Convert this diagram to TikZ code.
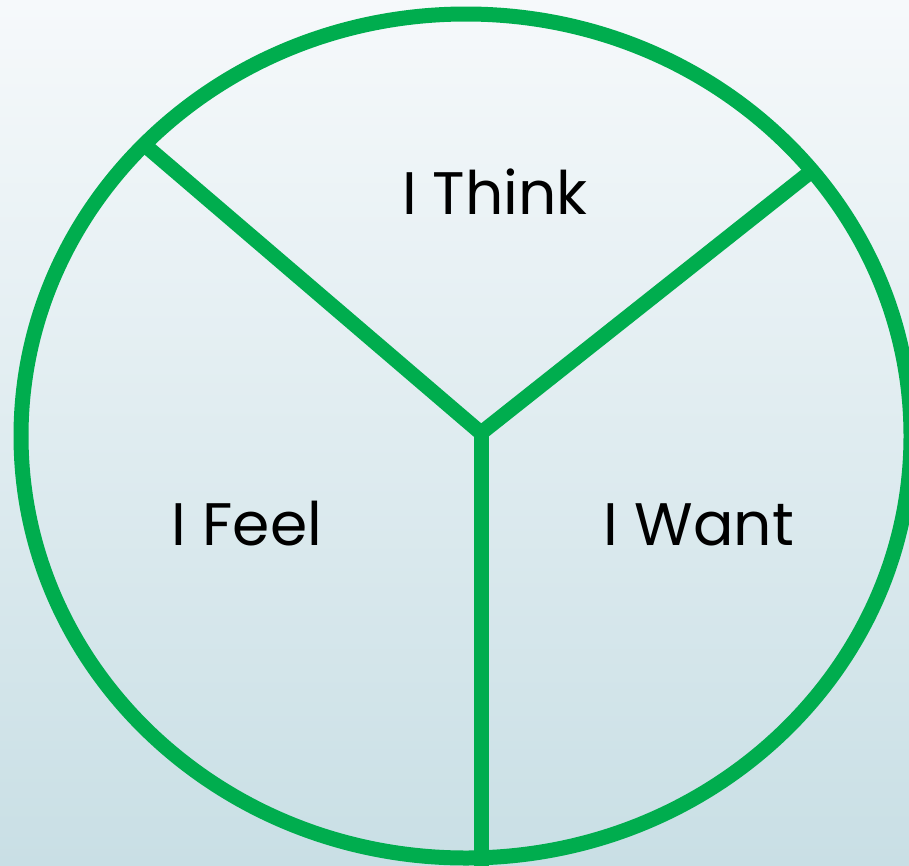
\documentclass[tikz,border=0pt]{standalone}
\usepackage{fontspec}
\setmainfont{Poppins}
\definecolor{ringgreen}{RGB}{0,173,78}
\definecolor{bgtop}{RGB}{246,249,251}
\definecolor{bgbot}{RGB}{201,223,229}
\tikzset{
  ring/.style={draw=ringgreen, line width=15pt},
  spoke/.style={draw=ringgreen, line width=15pt},
  label/.style={anchor=base, font=\fontsize{60}{60}\selectfont, text=black, inner sep=0pt}
}
\begin{document}
\begin{tikzpicture}[x=1pt,y=-1pt]
  \shade[top color=bgtop, bottom color=bgbot] (0,0) rectangle (909,865);
  \useasboundingbox (0,0) rectangle (909,865);
  \coordinate (hub) at (481,433);
  \coordinate (ul) at (147,147);
  \coordinate (ur) at (813,170);
  \coordinate (bt) at (481,870);
  \draw[spoke] (hub) -- (ul);
  \draw[spoke] (hub) -- (ur);
  \draw[spoke] (hub) -- (bt);
  \fill[ringgreen] (hub) ++(-7.5,0) -- ++(15,0) -- ++(-7.5,-8) -- cycle;
  \draw[ring] (466,436) ellipse [x radius=445, y radius=422];
  \node[label] (think) at (495,214) {I Think};
  \node[label] (feel) at (247,545) {I Feel};
  \node[label] (want) at (699,545) {I Want};
\end{tikzpicture}
\end{document}
